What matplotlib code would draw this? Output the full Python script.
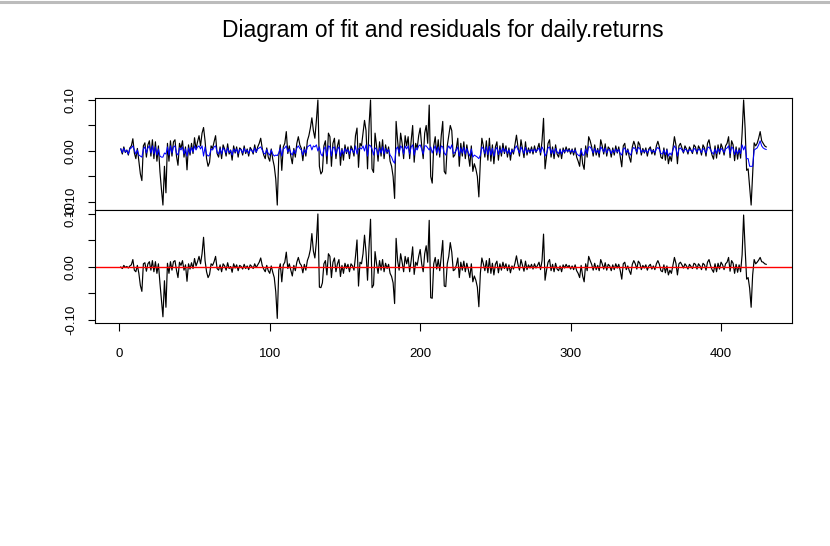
import numpy as np
import matplotlib
matplotlib.use("Agg")
import matplotlib.pyplot as plt
from matplotlib.lines import Line2D

plt.rcParams['font.family'] = ['Liberation Sans', 'DejaVu Sans']

title = "Diagram of fit and residuals for daily.returns"

returns = [
    0.004, -0.006, 0.008, -0.003, 0.002, -0.008, 0.006, 0.010, 0.024, -0.004,
    -0.015, 0.005, -0.020, -0.045, -0.058, 0.010, 0.016, -0.012, 0.012, 0.020,
    -0.010, 0.022, -0.015, 0.018, -0.020, 0.010, -0.040, -0.075, -0.106, -0.030,
    -0.082, 0.015, -0.020, 0.020, -0.010, 0.018, 0.022, -0.010, -0.028, 0.015,
    0.005, 0.020, -0.012, 0.008, -0.037, 0.012, -0.008, 0.015, -0.005, 0.026,
    0.004, 0.018, 0.030, 0.010, 0.035, 0.046, 0.020, -0.015, -0.030, -0.022,
    0.010, 0.005, 0.018, 0.030, -0.005, -0.012, 0.008, -0.015, 0.012, 0.004,
    -0.010, 0.014, -0.006, 0.002, -0.018, 0.010, -0.004, 0.008, -0.012, 0.006,
    0.003, -0.008, 0.010, -0.005, 0.004, -0.010, 0.007, 0.002, -0.006, 0.012,
    -0.003, 0.008, 0.015, 0.025, 0.005, -0.008, -0.015, 0.006, -0.012, -0.020,
    0.004, -0.016, -0.030, -0.055, -0.106, -0.010, 0.012, -0.038, 0.008, 0.015,
    0.038, -0.005, 0.010, -0.010, -0.025, 0.005, -0.012, 0.015, 0.028, 0.012,
    0.005, -0.019, 0.008, -0.010, 0.020, 0.030, 0.045, 0.065, 0.040, 0.025,
    0.060, 0.100, -0.030, -0.045, -0.040, 0.010, 0.020, -0.025, 0.035, 0.028,
    -0.030, 0.015, 0.025, -0.015, 0.010, 0.022, -0.028, 0.005, -0.018, 0.012,
    -0.005, 0.008, -0.015, 0.010, 0.003, -0.010, 0.030, 0.045, -0.032, 0.015,
    0.010, 0.035, 0.060, 0.040, -0.035, 0.050, 0.100, -0.035, -0.042, 0.035,
    0.010, -0.020, 0.018, -0.010, 0.022, -0.015, 0.012, -0.005, 0.008, -0.020,
    -0.030, -0.050, -0.093, 0.058, 0.020, -0.010, 0.035, 0.015, -0.015, 0.030,
    0.010, 0.028, -0.015, 0.020, 0.050, -0.022, 0.015, 0.005, 0.030, 0.045,
    0.010, -0.015, 0.035, 0.050, 0.015, 0.090, -0.050, -0.063, 0.010, 0.028,
    -0.008, 0.022, -0.012, 0.030, 0.058, -0.040, -0.045, 0.010, 0.030, 0.050,
    0.040, -0.012, -0.008, 0.005, 0.025, -0.030, 0.015, -0.010, 0.018, -0.015,
    0.012, -0.008, -0.030, 0.010, -0.040, -0.025, -0.035, -0.050, -0.090, -0.020,
    0.025, 0.010, -0.012, 0.020, -0.018, 0.025, -0.020, 0.012, -0.025, 0.008,
    0.018, -0.018, 0.010, -0.010, 0.015, -0.005, 0.010, -0.012, 0.006, -0.018,
    0.004, -0.006, 0.012, 0.031, 0.008, -0.010, 0.022, 0.005, -0.013, 0.018,
    -0.008, 0.006, -0.004, 0.008, -0.006, 0.010, -0.003, 0.005, 0.015, -0.008,
    0.020, 0.064, -0.035, -0.010, 0.015, 0.022, -0.012, 0.008, -0.015, 0.012,
    -0.006, -0.012, 0.004, -0.015, 0.006, -0.004, 0.008, -0.002, 0.005, -0.006,
    0.004, -0.008, 0.006, -0.012, -0.020, -0.030, 0.005, -0.025, -0.036, 0.010,
    -0.012, 0.028, 0.020, 0.008, -0.010, 0.012, -0.008, 0.005, -0.012, 0.022,
    0.010, -0.006, 0.014, -0.010, 0.008, 0.004, -0.012, 0.006, -0.008, 0.010,
    -0.004, 0.008, -0.012, -0.031, 0.010, 0.015, -0.008, 0.004, -0.012, -0.022,
    0.008, 0.019, 0.010, -0.006, 0.018, 0.012, -0.008, 0.005, -0.004, 0.006,
    -0.010, 0.004, 0.008, -0.006, 0.003, -0.008, 0.010, 0.019, 0.008, -0.012,
    -0.015, 0.006, -0.018, 0.004, -0.025, -0.010, -0.020, 0.005, 0.028, 0.012,
    -0.025, 0.010, 0.015, 0.006, -0.004, 0.010, 0.004, -0.006, 0.008, 0.002,
    -0.005, 0.012, 0.008, -0.006, 0.010, 0.004, -0.008, 0.012, 0.006, -0.010,
    0.015, 0.022, 0.005, -0.008, -0.016, 0.010, -0.014, 0.012, -0.006, 0.014,
    0.006, -0.008, 0.010, 0.015, 0.028, -0.013, 0.020, 0.012, -0.019, 0.008,
    -0.016, 0.006, -0.014, 0.035, 0.100, 0.044, -0.038, -0.035, -0.070, -0.106,
    -0.045, 0.016, 0.010, 0.015, 0.025, 0.038, 0.020, 0.015, 0.010, 0.008,
]

fitted = [
    0.004, -0.003, 0.005, -0.002, 0.001, -0.006, 0.004, 0.006, 0.010, 0.002,
    -0.006, 0.002, -0.008, -0.010, -0.012, 0.004, 0.008, -0.004, 0.006, 0.010,
    -0.004, 0.010, -0.006, 0.008, -0.008, 0.004, -0.010, -0.012, -0.012, -0.004,
    -0.006, 0.008, -0.008, 0.010, -0.004, 0.008, 0.010, -0.004, -0.008, 0.006,
    0.002, 0.008, -0.006, 0.004, -0.010, 0.006, -0.004, 0.007, -0.002, 0.010,
    0.002, 0.008, 0.010, 0.004, 0.010, -0.010, 0.008, -0.006, -0.010, -0.008,
    0.004, 0.002, 0.008, 0.010, -0.002, -0.006, 0.004, -0.006, 0.006, 0.002,
    -0.004, 0.006, -0.003, 0.001, -0.008, 0.004, -0.002, 0.004, -0.005, 0.003,
    0.002, -0.004, 0.005, -0.002, 0.002, -0.005, 0.003, 0.001, -0.003, 0.006,
    -0.002, 0.004, 0.006, 0.008, 0.002, -0.004, -0.006, 0.003, -0.005, -0.008,
    0.002, -0.006, -0.010, -0.008, -0.009, -0.004, 0.006, -0.010, 0.004, 0.006,
    0.010, -0.002, 0.004, -0.004, -0.008, 0.002, -0.005, 0.006, 0.010, 0.005,
    0.002, -0.008, 0.003, -0.004, 0.008, 0.010, 0.012, 0.002, 0.010, 0.008,
    0.012, 0.000, 0.008, -0.006, -0.010, 0.004, 0.008, -0.010, 0.010, 0.008,
    -0.010, 0.006, 0.008, -0.006, 0.004, 0.008, -0.010, 0.002, -0.006, 0.005,
    -0.002, 0.003, -0.006, 0.004, 0.001, -0.004, 0.010, -0.006, 0.004, 0.006,
    0.004, 0.010, 0.000, 0.012, -0.010, 0.012, 0.010, 0.004, -0.008, 0.006,
    0.004, -0.008, 0.006, -0.004, 0.008, -0.006, 0.005, -0.002, 0.003, -0.008,
    -0.012, -0.020, -0.024, 0.004, 0.008, -0.004, 0.010, 0.006, -0.006, 0.010,
    0.004, 0.010, -0.006, 0.008, 0.012, -0.008, 0.006, 0.002, 0.010, 0.012,
    0.004, -0.006, 0.010, 0.010, 0.006, 0.002, 0.008, -0.004, 0.004, 0.010,
    -0.004, 0.008, -0.005, 0.010, 0.008, -0.004, -0.008, 0.004, 0.010, 0.004,
    0.012, -0.005, -0.003, 0.002, 0.008, -0.010, 0.006, -0.004, 0.007, -0.006,
    0.005, -0.003, -0.010, 0.004, -0.012, -0.008, -0.010, -0.012, -0.015, -0.008,
    0.008, 0.004, -0.005, 0.008, -0.007, 0.009, -0.008, 0.005, -0.010, 0.003,
    0.007, -0.007, 0.004, -0.004, 0.006, -0.002, 0.004, -0.005, 0.002, -0.007,
    0.002, -0.002, 0.005, 0.010, 0.003, -0.004, 0.008, 0.002, -0.005, 0.007,
    -0.003, 0.002, -0.002, 0.003, -0.002, 0.004, -0.001, 0.002, 0.006, -0.003,
    0.008, 0.002, -0.010, -0.004, 0.006, 0.008, -0.005, 0.003, -0.006, 0.005,
    -0.002, -0.005, 0.002, -0.006, 0.002, -0.002, 0.003, -0.001, 0.002, -0.002,
    0.002, -0.003, 0.002, -0.005, -0.008, -0.010, 0.002, -0.008, -0.008, 0.004,
    -0.005, 0.008, 0.008, 0.003, -0.004, 0.005, -0.003, 0.002, -0.005, 0.008,
    0.004, -0.002, 0.006, -0.004, 0.003, 0.002, -0.005, 0.002, -0.003, 0.004,
    -0.002, 0.003, -0.005, -0.008, 0.004, 0.006, -0.003, 0.002, -0.005, -0.008,
    0.003, 0.007, 0.004, -0.002, 0.007, 0.005, -0.003, 0.002, -0.002, 0.002,
    -0.004, 0.002, 0.003, -0.002, 0.001, -0.003, 0.004, 0.007, 0.003, -0.005,
    -0.006, 0.002, -0.007, 0.002, -0.010, -0.004, -0.008, 0.002, 0.010, 0.005,
    -0.010, 0.004, 0.006, 0.002, -0.002, 0.004, 0.002, -0.002, 0.003, 0.001,
    -0.002, 0.005, 0.003, -0.002, 0.004, 0.002, -0.003, 0.005, 0.002, -0.004,
    0.006, 0.008, 0.002, -0.003, -0.006, 0.004, -0.005, 0.005, -0.002, 0.005,
    0.002, -0.003, 0.004, 0.006, 0.010, -0.005, 0.008, 0.005, -0.007, 0.003,
    -0.006, 0.002, -0.005, 0.012, 0.002, 0.010, -0.015, -0.015, -0.030, -0.030,
    -0.030, 0.002, 0.004, 0.006, 0.012, 0.020, 0.010, 0.006, 0.004, 0.003,
]

x_ticks = [0, 100, 200, 300, 400]
y_ticks = [-0.10, -0.05, 0.00, 0.05, 0.10]
y_ticklabels = ["-0.10", "", "0.00", "", "0.10"]

returns = np.array(returns)
fitted = np.array(fitted)
residuals = returns - fitted
t = np.arange(1, len(returns) + 1)

W, H = 830, 546
fig = plt.figure(figsize=(W / 100, H / 100), dpi=100)
fig.patch.set_facecolor("white")

# light grey strip along the top edge of the image
fig.add_artist(Line2D([0, 1], [1 - 1.5 / H, 1 - 1.5 / H], transform=fig.transFigure,
                      color="#bcbcbc", lw=2.2))

left = 95 / W
width = (792 - 95) / W
ax1 = fig.add_axes([left, 1 - 210 / H, width, (210 - 98) / H])
ax2 = fig.add_axes([left, 1 - 323 / H, width, (323 - 210) / H], sharex=ax1)

lw = 0.85
ax1.plot(t, returns, color="black", lw=lw)
ax1.plot(t, fitted, color="blue", lw=0.75)
ax2.plot(t, residuals, color="black", lw=lw)
ax2.axhline(0, color="red", lw=1.0)

span = t[-1] - t[0]
ax1.set_xlim(t[0] - 0.04 * span, t[-1] + 0.04 * span)
ax1.set_ylim(-0.1157, 0.1039)
ax2.set_ylim(-0.1057, 0.1075)

for ax in (ax1, ax2):
    ax.set_yticks(y_ticks)
    ax.set_yticklabels(y_ticklabels, rotation=90, va="center")
    ax.tick_params(axis="y", direction="out", length=5, width=0.8, pad=8,
                   labelsize=9.5, colors="black")
    for s in ax.spines.values():
        s.set_linewidth(0.8)
        s.set_color("black")

ax1.tick_params(axis="x", bottom=False, labelbottom=False)
ax2.set_xticks(x_ticks)
ax2.set_xticklabels([str(v) for v in x_ticks])
ax2.tick_params(axis="x", direction="out", length=6, width=0.8, pad=12,
                labelsize=9.5, colors="black")

fig.text(443 / W, 1 - 31 / H, title, ha="center", va="center", fontsize=16.5)

fig.savefig("out.png", dpi=100, facecolor="white")
